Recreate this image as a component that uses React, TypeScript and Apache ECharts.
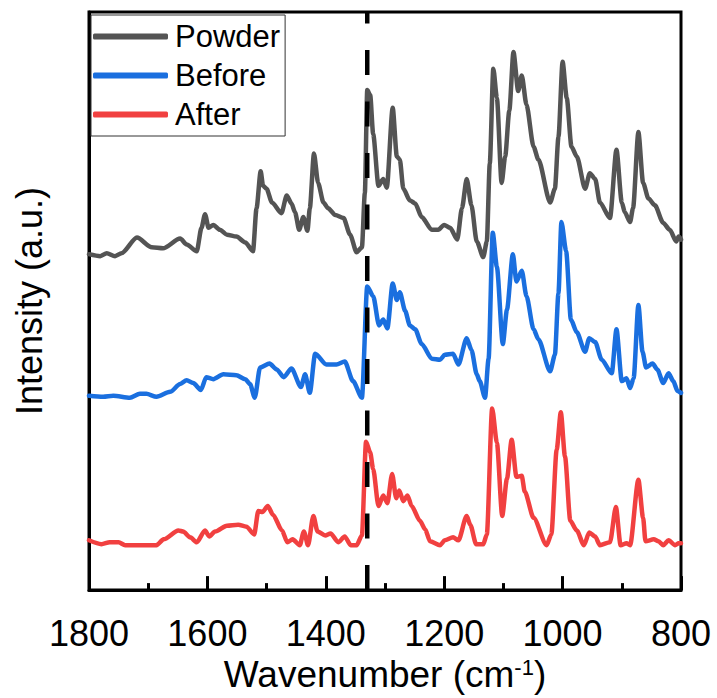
import React, { useEffect, useRef } from "react";
import * as echarts from "echarts";

const seriesNames = ["Powder", "Before", "After"];
const xTicks = [1800, 1600, 1400, 1200, 1000, 800];
const dashedLineX = 1330;

const powder: number[][] = [
  [1800, 344], [1781, 342], [1770, 345], [1756, 342], [1745, 345], [1719, 361], [1694, 351], [1675, 350],
  [1646, 360], [1635, 354], [1618, 347], [1610, 371], [1604, 385], [1598, 371], [1590, 374], [1579, 369],
  [1567, 364], [1551, 362], [1536, 356], [1523, 347], [1517, 391], [1510, 429], [1506, 414], [1500, 411],
  [1491, 397], [1475, 386], [1466, 404], [1458, 396], [1452, 387], [1445, 369], [1438, 382], [1431, 368],
  [1427, 391], [1420, 447], [1413, 417], [1404, 397], [1396, 391], [1384, 384], [1370, 381], [1359, 364],
  [1348, 346], [1339, 351], [1334, 407], [1330, 512], [1325, 507], [1320, 467], [1311, 414], [1303, 421],
  [1297, 412], [1287, 494], [1280, 444], [1275, 441], [1269, 411], [1258, 399], [1249, 396], [1238, 382],
  [1221, 369], [1210, 369], [1200, 374], [1190, 371], [1178, 359], [1170, 391], [1162, 421], [1154, 394],
  [1145, 357], [1134, 341], [1128, 357], [1123, 437], [1117, 534], [1111, 504], [1103, 417], [1097, 444],
  [1090, 491], [1083, 551], [1075, 511], [1069, 527], [1061, 497], [1049, 454], [1041, 441], [1021, 397],
  [1013, 411], [1007, 464], [1000, 541], [993, 504], [985, 454], [976, 444], [962, 411], [954, 427],
  [945, 421], [937, 397], [920, 381], [909, 451], [900, 397], [895, 387], [886, 377], [881, 391],
  [872, 469], [864, 417], [855, 401], [844, 394], [830, 376], [819, 369], [808, 357], [804, 362], [800, 359],
];

const before: number[][] = [
  [1800, 199], [1776, 198], [1759, 199], [1731, 197], [1714, 201], [1703, 201], [1686, 198], [1663, 203],
  [1646, 211], [1635, 215], [1624, 212], [1611, 205], [1602, 218], [1590, 216], [1573, 221], [1551, 220],
  [1536, 216], [1528, 211], [1520, 197], [1511, 228], [1495, 232], [1483, 226], [1471, 218], [1458, 227],
  [1442, 208], [1435, 221], [1427, 202], [1418, 242], [1399, 231], [1382, 231], [1368, 234], [1354, 214],
  [1339, 197], [1330, 311], [1320, 301], [1310, 271], [1303, 277], [1296, 268], [1287, 314], [1280, 297],
  [1275, 305], [1266, 286], [1258, 271], [1249, 267], [1238, 252], [1221, 237], [1207, 236], [1199, 241],
  [1185, 242], [1176, 231], [1162, 258], [1154, 246], [1145, 221], [1140, 214], [1131, 197], [1125, 237],
  [1118, 366], [1111, 331], [1101, 252], [1094, 287], [1084, 344], [1078, 316], [1069, 327], [1061, 301],
  [1049, 267], [1041, 257], [1021, 224], [1013, 241], [1007, 304], [1002, 377], [994, 347], [986, 277],
  [976, 264], [962, 244], [955, 258], [945, 254], [934, 236], [917, 222], [909, 267], [900, 214],
  [892, 217], [886, 207], [880, 217], [872, 292], [865, 244], [859, 228], [848, 232], [840, 226],
  [830, 212], [821, 222], [813, 214], [806, 204], [800, 202],
];

const after: number[][] = [
  [1800, 51], [1779, 47], [1765, 49], [1750, 49], [1739, 46], [1703, 46], [1686, 46], [1674, 52],
  [1649, 61], [1641, 60], [1629, 54], [1618, 49], [1604, 61], [1597, 55], [1587, 60], [1567, 66],
  [1548, 67], [1534, 65], [1521, 57], [1514, 81], [1507, 80], [1498, 86], [1489, 77], [1474, 61],
  [1465, 49], [1456, 52], [1444, 46], [1437, 60], [1430, 46], [1421, 76], [1414, 60], [1401, 56],
  [1392, 58], [1379, 49], [1368, 55], [1358, 46], [1348, 46], [1339, 56], [1332, 152], [1325, 141],
  [1320, 124], [1311, 86], [1303, 97], [1296, 89], [1288, 119], [1281, 94], [1276, 102], [1269, 91],
  [1262, 97], [1255, 86], [1241, 71], [1232, 62], [1224, 50], [1207, 46], [1199, 51], [1185, 54],
  [1176, 51], [1162, 76], [1156, 67], [1146, 47], [1134, 47], [1128, 57], [1119, 186], [1111, 151],
  [1102, 76], [1094, 114], [1086, 154], [1078, 116], [1069, 117], [1064, 101], [1049, 74], [1027, 46],
  [1019, 57], [1010, 144], [1003, 182], [996, 137], [987, 71], [976, 61], [964, 46], [955, 59],
  [945, 55], [937, 46], [920, 49], [910, 85], [902, 46], [892, 48], [886, 46], [872, 113],
  [864, 74], [860, 50], [846, 52], [838, 50], [830, 46], [821, 51], [810, 46], [804, 48], [800, 48],
];

const colors = ["#545454", "#1a6fdf", "#f14040"];
const FONT = "'Liberation Sans', Arial, sans-serif";

export default function App() {
  const ref = useRef<HTMLDivElement>(null);
  useEffect(() => {
    if (!ref.current) return;
    const chart = echarts.init(ref.current, undefined, { renderer: "svg" });
    const dataSets = [powder, before, after];
    chart.setOption({
      animation: false,
      textStyle: { fontFamily: FONT },
      grid: {
        left: 89, right: 36, top: 12, bottom: 94,
        show: true, borderColor: "#000", borderWidth: 3, backgroundColor: "transparent",
      },
      legend: {
        data: seriesNames.map((n, i) => ({ name: n, itemStyle: { color: colors[i] } })),
        orient: "vertical",
        left: 91, top: 15,
        padding: [5, 5, 5, 2],
        borderColor: "#333", borderWidth: 1,
        icon: "roundRect",
        itemWidth: 75, itemHeight: 6,
        itemGap: 6,
        textStyle: { fontSize: 31, color: "#000", fontFamily: FONT, lineHeight: 33, padding: [0, 0, 0, 2] },
      },
      xAxis: {
        type: "value",
        min: 800, max: 1800, interval: 200, inverse: true,
        name: "Wavenumber (cm{sup|-1})",
        nameLocation: "middle",
        nameGap: 64,
        nameTextStyle: {
          fontSize: 37, color: "#000", fontFamily: FONT,
          rich: { sup: { fontSize: 22, verticalAlign: "top", color: "#000", fontFamily: FONT } },
        },
        axisLine: { show: true, lineStyle: { color: "#000", width: 3 } },
        axisTick: { show: true, inside: true, length: 14, lineStyle: { color: "#000", width: 3 } },
        minorTick: { show: true, splitNumber: 2, length: 7, lineStyle: { color: "#000", width: 3 } },
        splitLine: { show: false },
        axisLabel: {
          fontSize: 36, color: "#000", margin: 25, fontFamily: FONT,
          formatter: (v: number) => (xTicks.includes(v) ? String(v) : ""),
        },
      },
      yAxis: {
        type: "value", min: 0, max: 592,
        name: "Intensity (a.u.)",
        nameLocation: "middle",
        nameGap: 42,
        nameTextStyle: { fontSize: 36, color: "#000", fontFamily: FONT },
        axisLine: { show: true, lineStyle: { color: "#000", width: 3 } },
        axisTick: { show: false },
        axisLabel: { show: false },
        splitLine: { show: false },
      },
      series: [
        ...seriesNames.map((n, i) => ({
          name: n,
          type: "line",
          data: dataSets[i],
          symbol: "none",
          smooth: 0.25,
          smoothMonotone: "x",
          lineStyle: { color: colors[i], width: 4.5, join: "round", cap: "round" },
          itemStyle: { color: colors[i] },
          z: 2,
        })),
        {
          name: "marker",
          type: "line",
          data: [[dashedLineX, 0], [dashedLineX, 592]],
          symbol: "none",
          lineStyle: { color: "#000", width: 4.5, type: [25, 26.5] },
          z: 5,
          silent: true,
        },
      ],
    });
    return () => chart.dispose();
  }, []);
  return (
    <div
      ref={ref}
      style={{ position: "absolute", left: 0, top: 0, width: 717, height: 698 }}
    />
  );
}
